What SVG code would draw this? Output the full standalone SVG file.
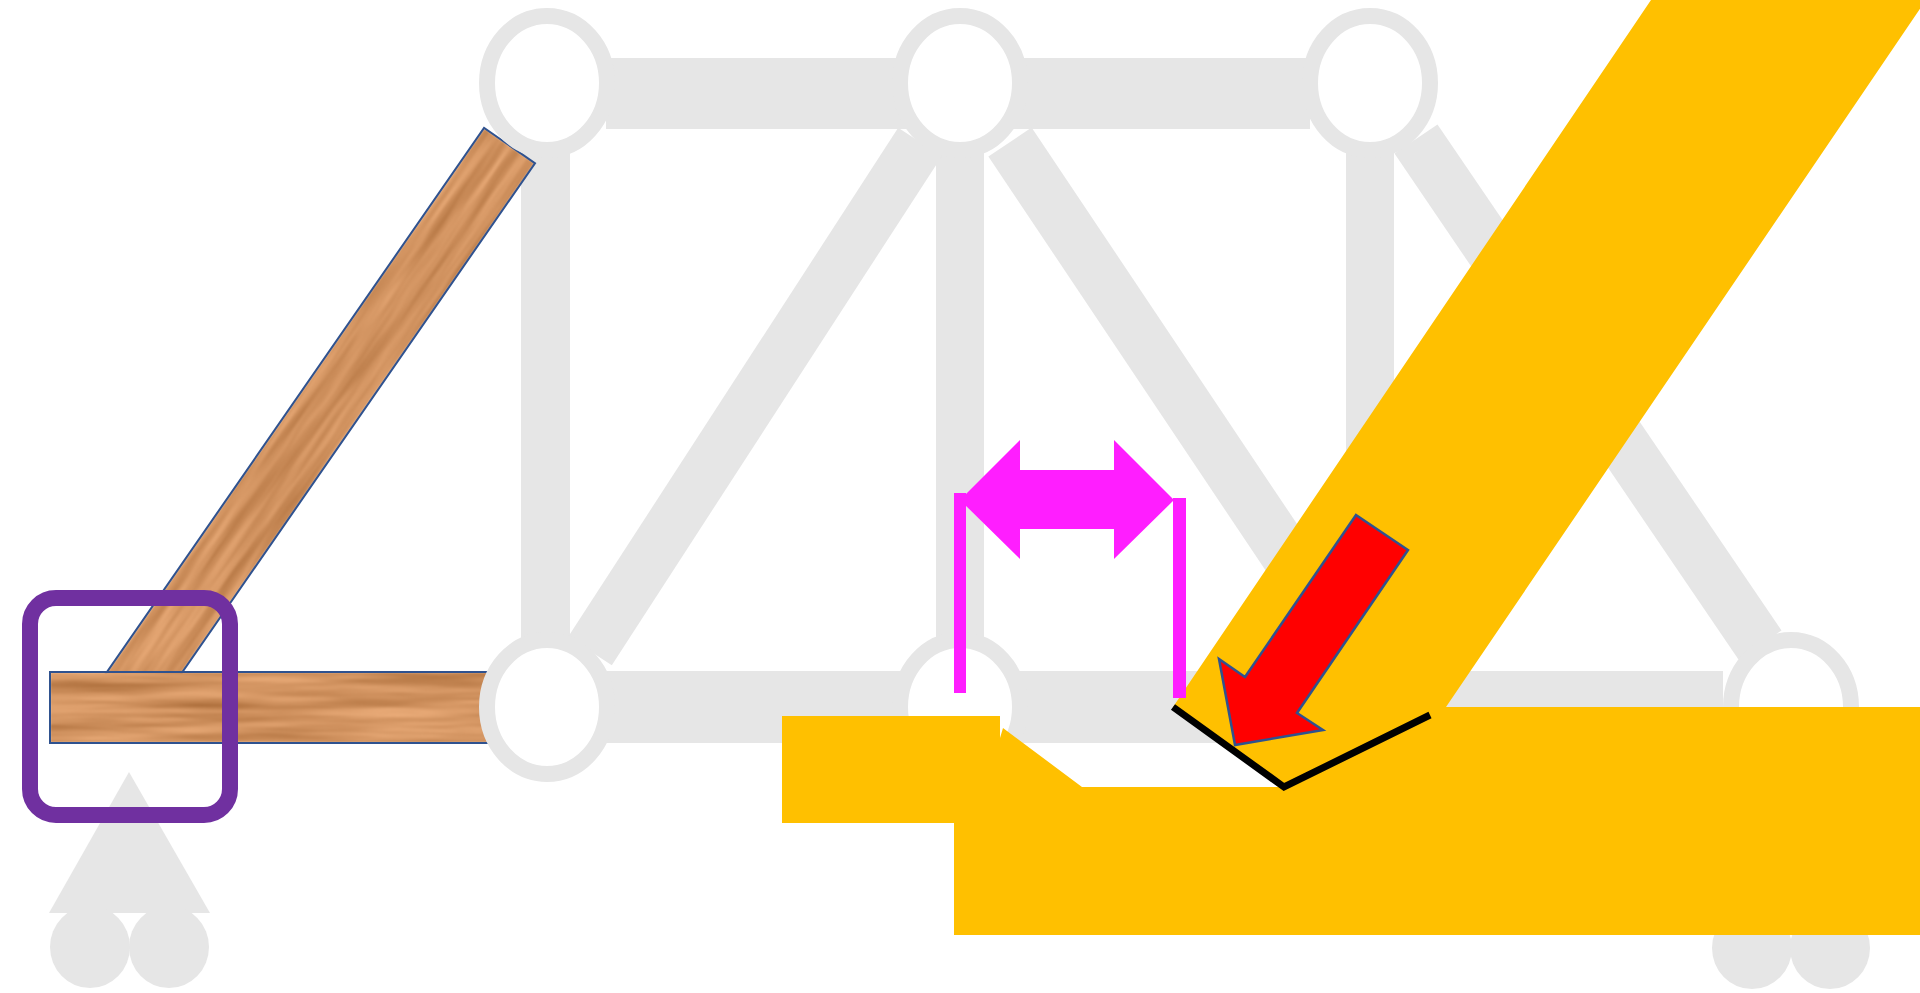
<svg xmlns="http://www.w3.org/2000/svg" width="1920" height="993" viewBox="0 0 1920 993">
  <style>
    .bar { fill: #E6E6E6; }
    .strut { fill: none; stroke: #E6E6E6; stroke-width: 52; stroke-linecap: butt; }
    .joint { fill: #FFFFFF; stroke: #E6E6E6; stroke-width: 16; }
    .support { fill: #E6E6E6; }
    .wood { fill: #000; }
    .wood-edge { fill: none; stroke: #2F528F; stroke-width: 2; }
    .dim { fill: #FF1EFF; }
  </style>
  <defs>
    <!-- procedural wood grain: stretched fractal noise mapped to brown tones -->
    <filter id="grain" x="0" y="0" width="1" height="1" color-interpolation-filters="sRGB">
      <feTurbulence type="fractalNoise" baseFrequency="0.006 0.11" numOctaves="4" seed="7" result="noise"/>
      <feColorMatrix in="noise" type="matrix"
        values="0.32 0 0 0 0.655
                0.32 0 0 0 0.41
                0.32 0 0 0 0.21
                0 0 0 0 1" result="tone"/>
      <feGaussianBlur in="tone" stdDeviation="1" result="soft"/>
      <feComposite in="soft" in2="SourceAlpha" operator="in"/>
    </filter>
  </defs>

  <!-- truss members (connectors between joints) -->
  <g id="members">
    <rect class="bar" x="606" y="58" width="704" height="71"/>
    <rect class="bar" x="606" y="671" width="1117" height="72"/>
    <rect class="bar" x="521" y="130" width="49" height="510"/>
    <rect class="bar" x="936" y="130" width="48" height="510"/>
    <rect class="bar" x="1346" y="130" width="48" height="510"/>
    <line class="strut" x1="590" y1="651" x2="920" y2="142"/>
    <line class="strut" x1="1010" y1="142" x2="1330" y2="620"/>
    <line class="strut" x1="1416" y1="139" x2="1760" y2="645"/>
  </g>

  <!-- left support: pin triangle on two rollers -->
  <g id="support-left">
    <polygon class="support" points="129,772 49,913 210,913"/>
    <ellipse class="support" cx="90" cy="947" rx="40" ry="41"/>
    <ellipse class="support" cx="169" cy="947" rx="40" ry="41"/>
  </g>

  <!-- right support rollers -->
  <g id="support-right">
    <ellipse class="support" cx="1752" cy="948" rx="40" ry="41"/>
    <ellipse class="support" cx="1830" cy="948" rx="40" ry="41"/>
  </g>

  <!-- wooden members -->
  <g id="wood-diagonal" transform="translate(107,672) rotate(-55.28)">
    <rect class="wood" x="-22" y="0" width="684" height="62" filter="url(#grain)"/>
    <rect class="wood-edge" x="-22" y="0" width="684" height="62"/>
  </g>
  <g id="wood-chord">
    <rect class="wood" x="50" y="672" width="438" height="71" filter="url(#grain)"/>
    <rect class="wood-edge" x="50" y="672" width="438" height="71"/>
  </g>

  <!-- joints -->
  <g id="joint-top-1"><ellipse class="joint" cx="547" cy="83" rx="60" ry="67"/></g>
  <g id="joint-top-2"><ellipse class="joint" cx="960" cy="83" rx="60" ry="67"/></g>
  <g id="joint-top-3"><ellipse class="joint" cx="1370" cy="83" rx="60" ry="67"/></g>
  <g id="joint-bottom-1"><ellipse class="joint" cx="547" cy="707" rx="60" ry="67"/></g>
  <g id="joint-bottom-2"><ellipse class="joint" cx="960" cy="707" rx="60" ry="67"/></g>
  <g id="joint-bottom-4"><ellipse class="joint" cx="1791" cy="707" rx="60" ry="67"/></g>

  <!-- highlight frame around the left bearing -->
  <g id="highlight">
    <rect x="30" y="598" width="200" height="217" rx="26" ry="26" fill="none" stroke="#7030A0" stroke-width="16"/>
  </g>

  <!-- yellow block -->
  <g id="yellow-shape">
    <path fill="#FFC000" d="M1651,0 L1926,0 L1446,707 L1920,707 L1920,935 L954,935 L954,823 L782,823 L782,716 L1000,716 L1000,738 L1003,728 L1082,787 L1284,787 L1173,707 Z"/>
  </g>

  <!-- dimension marker -->
  <g id="dimension">
    <rect class="dim" x="954" y="493" width="12" height="200"/>
    <rect class="dim" x="1173" y="498" width="13" height="200"/>
    <polygon class="dim" points="960,500 1020,440 1020,470 1114,470 1114,440 1174,500 1114,559 1114,529 1020,529 1020,559"/>
  </g>

  <!-- load arrow -->
  <g id="load-arrow">
    <polygon points="1356,515 1408,550 1297,713 1323,730 1235,745 1219,659 1245,677" fill="#FF0000" stroke="#2F528F" stroke-width="2.5" stroke-linejoin="miter"/>
  </g>

  <!-- contact line -->
  <g id="contact">
    <polyline points="1173,707 1284,787 1430,715" fill="none" stroke="#000000" stroke-width="7"/>
  </g>
</svg>
